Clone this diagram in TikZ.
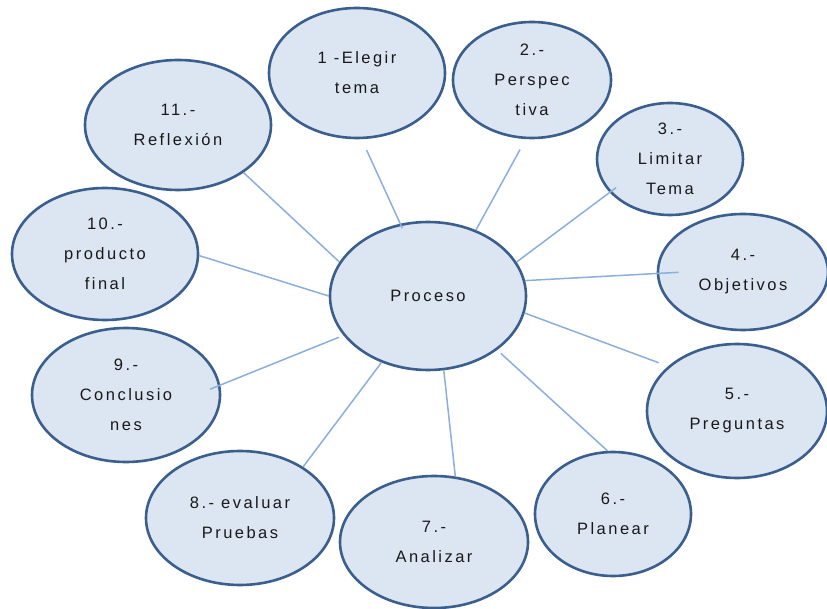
\documentclass[tikz,border=0pt]{standalone}
\usepackage{xcolor}
\usepackage{tikz}
\usepackage{fontspec}
\setmainfont{Liberation Sans}[LetterSpace=15]
\usetikzlibrary{shapes.geometric,positioning,calc}
\definecolor{bubblefill}{HTML}{DCE6F2}
\definecolor{bubbleline}{HTML}{3A5F8F}
\definecolor{linkblue}{HTML}{8AAFDC}

\tikzset{
  bubble/.style={ellipse,draw=bubbleline,fill=bubblefill,line width=2.6pt,
    inner sep=0pt,align=center,font=\fontsize{16.5}{30}\selectfont,text=black!90},
  link/.style={draw=linkblue,line width=1.5pt}
}

\begin{document}
\begin{tikzpicture}[x=1pt,y=-1pt]
  \useasboundingbox (0,0) rectangle (827,609);

  % Center: process
  \node[bubble,minimum width=196pt,minimum height=148pt] (proceso) at (428,296) {Proceso};

  % Around: the steps
  \node[bubble,minimum width=176pt,minimum height=130pt] (e1) at (357,73) {1 -Elegir\\tema};
  \node[bubble,minimum width=158pt,minimum height=116pt] (e2) at (532,80) {2.-\\Perspec\\tiva};
  \node[bubble,minimum width=146pt,minimum height=112pt] (e3) at (670,159) {3.-\\Limitar\\Tema};
  \node[bubble,minimum width=170pt,minimum height=116pt] (e4) at (743,272) {4.-\\Objetivos};
  \node[bubble,minimum width=180pt,minimum height=134pt] (e5) at (737,411) {5.-\\Preguntas};
  \node[bubble,minimum width=156pt,minimum height=124pt] (e6) at (613,514) {6.-\\Planear};
  \node[bubble,minimum width=188pt,minimum height=132pt] (e7) at (434,542) {7.-\\Analizar};
  \node[bubble,minimum width=188pt,minimum height=134pt] (e8) at (240,518) {8.- evaluar\\Pruebas};
  \node[bubble,minimum width=188pt,minimum height=134pt] (e9) at (126,395) {9.-\\Conclusio\\nes};
  \node[bubble,minimum width=186pt,minimum height=132pt] (e10) at (105,254) {10.-\\producto\\final};
  \node[bubble,minimum width=186pt,minimum height=130pt] (e11) at (178,125) {11.-\\Reflexión};

  % Links
  \draw[link,shorten <=-5pt,shorten >=12pt] (proceso.111) -- (e1.274);
  \draw[link,shorten >=12pt] (proceso.54) -- (e2.264);
  \draw[link,shorten >=-8pt] (proceso.21) -- (e3.209);
  \draw[link,shorten >=-22pt] (proceso.9) -- (e4.181);
  \draw[link,shorten >=10pt] (proceso.-10) -- (e5.147);
  \draw[link,shorten <=5pt] (proceso.-38) -- (e6.95);
  \draw[link] (proceso.-78) -- (e7.72);
  \draw[link] (proceso.235) -- (e8.39);
  \draw[link,shorten <=5pt,shorten >=-11pt] (proceso.205) -- (e9.6);
  \draw[link] (proceso.180) -- (e10.-1);
  \draw[link] (proceso.159) -- (e11.-36);
\end{tikzpicture}
\end{document}
